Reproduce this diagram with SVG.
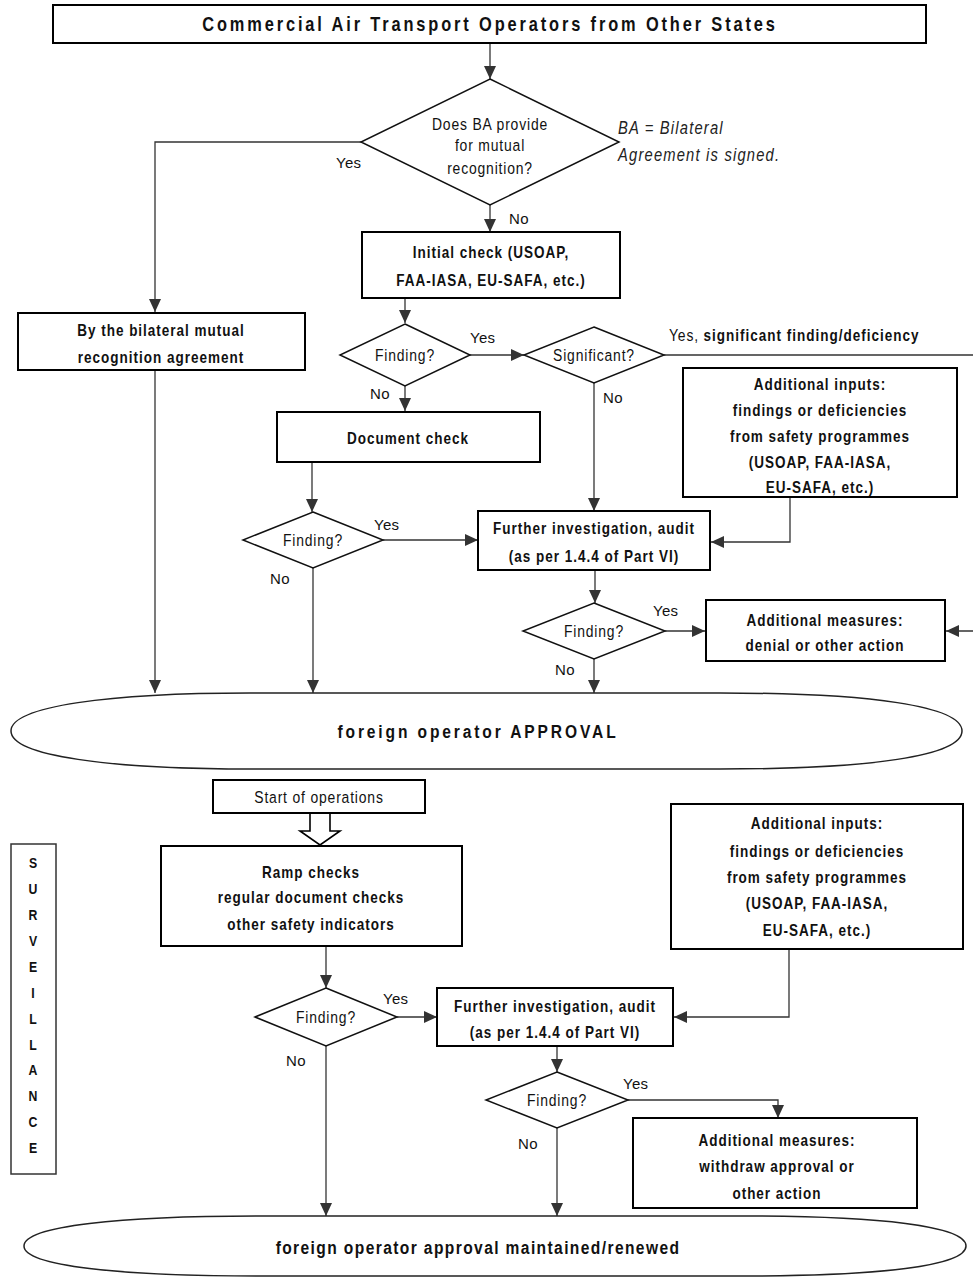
<svg xmlns="http://www.w3.org/2000/svg" width="973" height="1278" viewBox="0 0 973 1278">
<style>
.box{fill:#fff;stroke:#000;stroke-width:2}
.dia{fill:#fff;stroke:#111;stroke-width:1.5}
.c{fill:none;stroke:#333;stroke-width:1.3}
.b{font-family:"Liberation Sans",Arial,sans-serif;font-weight:bold;font-size:16.5px;letter-spacing:1.2px;fill:#111;text-anchor:middle}
.r{font-family:"Liberation Sans",Arial,sans-serif;font-size:17px;letter-spacing:1px;fill:#111;text-anchor:middle}
.lbl{font-family:"Liberation Sans",Arial,sans-serif;font-size:15px;letter-spacing:0.3px;fill:#111}
.it{font-family:"Liberation Sans",Arial,sans-serif;font-style:italic;font-size:18px;letter-spacing:1.45px;fill:#222}
.big{font-family:"Liberation Sans",Arial,sans-serif;font-weight:bold;font-size:20px;letter-spacing:3.5px;fill:#111;text-anchor:middle}
.sv{font-family:"Liberation Sans",Arial,sans-serif;font-weight:bold;font-size:15px;fill:#111;text-anchor:middle}
</style>
<defs>
<marker id="ah" markerUnits="userSpaceOnUse" markerWidth="13" markerHeight="12" refX="13" refY="6" orient="auto">
<path d="M0,0 L13,6 L0,12 Z" fill="#333"/>
</marker>
</defs>

<g id="connectors">
<path class="c" d="M490,43 V79" marker-end="url(#ah)"/>
<path class="c" d="M361,142 H155 V312" marker-end="url(#ah)"/>
<path class="c" d="M490,205 V232" marker-end="url(#ah)"/>
<path class="c" d="M405,298 V323" marker-end="url(#ah)"/>
<path class="c" d="M470,355 H524" marker-end="url(#ah)"/>
<path class="c" d="M664,355 H975 V631 H946" marker-end="url(#ah)"/>
<path class="c" d="M594,383 V511" marker-end="url(#ah)"/>
<path class="c" d="M405,386 V411" marker-end="url(#ah)"/>
<path class="c" d="M312,462 V512" marker-end="url(#ah)"/>
<path class="c" d="M383,540 H478" marker-end="url(#ah)"/>
<path class="c" d="M313,568 V693" marker-end="url(#ah)"/>
<path class="c" d="M155,370 V693" marker-end="url(#ah)"/>
<path class="c" d="M790,497 V542 H711" marker-end="url(#ah)"/>
<path class="c" d="M595,570 V603" marker-end="url(#ah)"/>
<path class="c" d="M665,631 H705" marker-end="url(#ah)"/>
<path class="c" d="M594,659 V693" marker-end="url(#ah)"/>
<path d="M310,813 H330 V831 H340 L320,845 L300,831 H310 Z" fill="#fff" stroke="#000" stroke-width="1.6"/>
<path class="c" d="M326,946 V988" marker-end="url(#ah)"/>
<path class="c" d="M397,1017 H437" marker-end="url(#ah)"/>
<path class="c" d="M326,1046 V1216" marker-end="url(#ah)"/>
<path class="c" d="M789,949 V1017 H674" marker-end="url(#ah)"/>
<path class="c" d="M557,1046 V1072" marker-end="url(#ah)"/>
<path class="c" d="M628,1100 H778 V1118" marker-end="url(#ah)"/>
<path class="c" d="M557,1128 V1216" marker-end="url(#ah)"/>
</g>

<g id="title">
<rect class="box" x="53" y="5" width="873" height="38"/>
<g transform="matrix(0.82,0,0,1,88.2,0)"><text class="big" x="490" y="31">Commercial Air Transport Operators from Other States</text></g>
</g>

<g id="q-ba">
<polygon class="dia" points="490,79 619,142 490,205 361,142"/>
<g transform="matrix(0.82,0,0,1,88.2,0)">
<text class="r" x="490" y="130">Does BA provide</text>
<text class="r" x="490" y="151">for mutual</text>
<text class="r" x="490" y="174">recognition?</text>
</g>
</g>
<g id="note" transform="matrix(0.82,0,0,1,111.24,0)">
<text class="it" x="618" y="134">BA = Bilateral</text>
<text class="it" x="618" y="161">Agreement is signed.</text>
</g>

<g id="initial-check">
<rect class="box" x="362" y="232" width="258" height="66"/>
<g transform="matrix(0.82,0,0,1,88.38,0)">
<text class="b" x="491" y="258">Initial check (USOAP,</text>
<text class="b" x="491" y="286">FAA-IASA, EU-SAFA, etc.)</text>
</g>
</g>

<g id="bilateral">
<rect class="box" x="18" y="313" width="287" height="57"/>
<g transform="matrix(0.82,0,0,1,28.98,0)">
<text class="b" x="161" y="336">By the bilateral mutual</text>
<text class="b" x="161" y="363">recognition agreement</text>
</g>
</g>

<g id="finding1">
<polygon class="dia" points="405,324 470,355 405,386 340,355"/>
<g transform="matrix(0.82,0,0,1,72.9,0)"><text class="r" x="405" y="361">Finding?</text></g>
</g>

<g id="significant">
<polygon class="dia" points="594,327 664,355 594,383 524,355"/>
<g transform="matrix(0.82,0,0,1,106.92,0)"><text class="r" x="594" y="361">Significant?</text></g>
</g>

<g id="add-inputs-1">
<rect class="box" x="683" y="368" width="274" height="129"/>
<g transform="matrix(0.82,0,0,1,147.6,0)">
<text class="b" x="820" y="390">Additional inputs:</text>
<text class="b" x="820" y="416">findings or deficiencies</text>
<text class="b" x="820" y="442">from safety programmes</text>
<text class="b" x="820" y="468">(USOAP, FAA-IASA,</text>
<text class="b" x="820" y="493">EU-SAFA, etc.)</text>
</g>
</g>

<g id="document-check">
<rect class="box" x="277" y="412" width="263" height="50"/>
<g transform="matrix(0.82,0,0,1,73.44,0)"><text class="b" x="408" y="444">Document check</text></g>
</g>

<g id="finding2">
<polygon class="dia" points="313,512 383,540 313,568 243,540"/>
<g transform="matrix(0.82,0,0,1,56.34,0)"><text class="r" x="313" y="546">Finding?</text></g>
</g>

<g id="further-1">
<rect class="box" x="478" y="511" width="232" height="59"/>
<g transform="matrix(0.82,0,0,1,106.92,0)">
<text class="b" x="594" y="534">Further investigation, audit</text>
<text class="b" x="594" y="562">(as per 1.4.4 of Part VI)</text>
</g>
</g>

<g id="finding3">
<polygon class="dia" points="594,603 665,631 594,659 523,631"/>
<g transform="matrix(0.82,0,0,1,106.92,0)"><text class="r" x="594" y="637">Finding?</text></g>
</g>

<g id="add-measures-1">
<rect class="box" x="706" y="600" width="239" height="61"/>
<g transform="matrix(0.82,0,0,1,148.5,0)">
<text class="b" x="825" y="626">Additional measures:</text>
<text class="b" x="825" y="651">denial or other action</text>
</g>
</g>

<g id="approval">
<path d="M11,731 C11,706 110,693 250,693 H720 C870,693 962,706 962,731 C962,756 870,769 720,769 H250 C110,769 11,756 11,731 Z" fill="#fff" stroke="#222" stroke-width="1.5"/>
<g transform="matrix(0.82,0,0,1,86.04,0)"><text class="big" x="478" y="738" style="font-size:19px;letter-spacing:3.5px">foreign operator APPROVAL</text></g>
</g>

<g id="start-ops">
<rect class="box" x="213" y="780" width="212" height="33" stroke-width="1.5"/>
<g transform="matrix(0.82,0,0,1,57.42,0)"><text class="r" x="319" y="803">Start of operations</text></g>
</g>

<g id="surveillance">
<rect x="11" y="844" width="45" height="330" fill="#fff" stroke="#333" stroke-width="1.5"/>
<g transform="matrix(0.82,0,0,1,5.94,0)">
<text class="sv" x="33" y="868">S</text>
<text class="sv" x="33" y="894">U</text>
<text class="sv" x="33" y="920">R</text>
<text class="sv" x="33" y="946">V</text>
<text class="sv" x="33" y="972">E</text>
<text class="sv" x="33" y="998">I</text>
<text class="sv" x="33" y="1024">L</text>
<text class="sv" x="33" y="1050">L</text>
<text class="sv" x="33" y="1075">A</text>
<text class="sv" x="33" y="1101">N</text>
<text class="sv" x="33" y="1127">C</text>
<text class="sv" x="33" y="1153">E</text>
</g>
</g>

<g id="ramp-checks">
<rect class="box" x="161" y="846" width="301" height="100"/>
<g transform="matrix(0.82,0,0,1,55.98,0)">
<text class="b" x="311" y="878">Ramp checks</text>
<text class="b" x="311" y="903">regular document checks</text>
<text class="b" x="311" y="930">other safety indicators</text>
</g>
</g>

<g id="add-inputs-2">
<rect class="box" x="671" y="804" width="292" height="145"/>
<g transform="matrix(0.82,0,0,1,147.06,0)">
<text class="b" x="817" y="829">Additional inputs:</text>
<text class="b" x="817" y="857">findings or deficiencies</text>
<text class="b" x="817" y="883">from safety programmes</text>
<text class="b" x="817" y="909">(USOAP, FAA-IASA,</text>
<text class="b" x="817" y="936">EU-SAFA, etc.)</text>
</g>
</g>

<g id="finding4">
<polygon class="dia" points="326,988 397,1017 326,1046 255,1017"/>
<g transform="matrix(0.82,0,0,1,58.68,0)"><text class="r" x="326" y="1023">Finding?</text></g>
</g>

<g id="further-2">
<rect class="box" x="437" y="988" width="236" height="58"/>
<g transform="matrix(0.82,0,0,1,99.9,0)">
<text class="b" x="555" y="1012">Further investigation, audit</text>
<text class="b" x="555" y="1038">(as per 1.4.4 of Part VI)</text>
</g>
</g>

<g id="finding5">
<polygon class="dia" points="557,1072 628,1100 557,1128 486,1100"/>
<g transform="matrix(0.82,0,0,1,100.26,0)"><text class="r" x="557" y="1106">Finding?</text></g>
</g>

<g id="add-measures-2">
<rect class="box" x="633" y="1118" width="284" height="90"/>
<g transform="matrix(0.82,0,0,1,139.86,0)">
<text class="b" x="777" y="1146">Additional measures:</text>
<text class="b" x="777" y="1172">withdraw approval or</text>
<text class="b" x="777" y="1199">other action</text>
</g>
</g>

<g id="maintained">
<path d="M24,1246 C24,1226 120,1216 260,1216 H740 C880,1216 966,1226 966,1246 C966,1266 880,1276 740,1276 H260 C120,1276 24,1266 24,1246 Z" fill="#fff" stroke="#222" stroke-width="1.5"/>
<g transform="matrix(0.82,0,0,1,86.04,0)"><text class="big" x="478" y="1254" style="font-size:19px;letter-spacing:1.7px">foreign operator approval maintained/renewed</text></g>
</g>

<g id="labels">
<text class="lbl" x="336" y="168">Yes</text>
<text class="lbl" x="509" y="224">No</text>
<text class="lbl" x="470" y="343">Yes</text>
<text class="lbl" x="370" y="399">No</text>
<text class="lbl" x="603" y="403">No</text>
<g transform="matrix(0.82,0,0,1,120.42,0)"><text class="lbl" x="669" y="341" style="font-size:17px;letter-spacing:1px">Yes, <tspan style="font-weight:bold;font-size:16.5px;letter-spacing:1.2px">significant finding/deficiency</tspan></text></g>
<text class="lbl" x="374" y="530">Yes</text>
<text class="lbl" x="270" y="584">No</text>
<text class="lbl" x="653" y="616">Yes</text>
<text class="lbl" x="555" y="675">No</text>
<text class="lbl" x="383" y="1004">Yes</text>
<text class="lbl" x="286" y="1066">No</text>
<text class="lbl" x="623" y="1089">Yes</text>
<text class="lbl" x="518" y="1149">No</text>
</g>
</svg>
